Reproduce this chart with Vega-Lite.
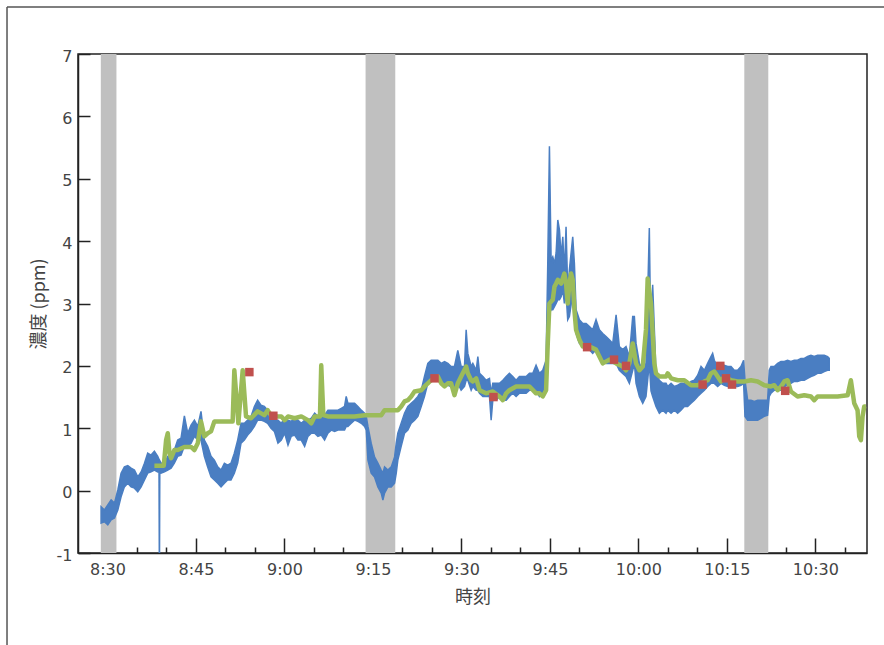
{
  "$schema": "https://vega.github.io/schema/vega-lite/v6.json",
  "width": 789,
  "height": 499,
  "autosize": {"type": "none"},
  "padding": {"left": 78, "top": 54, "right": 17, "bottom": 92},
  "background": "white",
  "config": {
    "view": {"stroke": "#222", "strokeWidth": 1.5},
    "font": "Noto Sans CJK JP",
    "axis": {
      "grid": false,
      "domainColor": "#222",
      "domainWidth": 1.5,
      "tickColor": "#222",
      "tickWidth": 1.5,
      "labelColor": "#444",
      "titleColor": "#444",
      "labelFont": "DejaVu Sans",
      "titleFont": "Noto Sans CJK JP",
      "labelFontSize": 16,
      "titleFontSize": 18,
      "titleFontWeight": "normal",
      "labelOverlap": false,
      "labelFlush": false
    }
  },
  "resolve": {"axis": {"x": "independent"}},
  "datasets": {
    "bands": [
      {"start": "2020-01-01T08:28:52", "end": "2020-01-01T08:31:31"},
      {"start": "2020-01-01T09:13:45", "end": "2020-01-01T09:18:47"},
      {"start": "2020-01-01T10:17:57", "end": "2020-01-01T10:22:01"}
    ],
    "blue": [
      {"t": "2020-01-01T08:28:55", "lo": -0.52, "hi": -0.26},
      {"t": "2020-01-01T08:29:29", "lo": -0.50, "hi": -0.31},
      {"t": "2020-01-01T08:30:03", "lo": -0.55, "hi": -0.23},
      {"t": "2020-01-01T08:30:37", "lo": -0.47, "hi": -0.15},
      {"t": "2020-01-01T08:31:11", "lo": -0.44, "hi": -0.20},
      {"t": "2020-01-01T08:31:45", "lo": -0.31, "hi": 0.01},
      {"t": "2020-01-01T08:32:18", "lo": -0.10, "hi": 0.28},
      {"t": "2020-01-01T08:32:52", "lo": 0.06, "hi": 0.38},
      {"t": "2020-01-01T08:33:26", "lo": 0.12, "hi": 0.40},
      {"t": "2020-01-01T08:34:00", "lo": 0.06, "hi": 0.36},
      {"t": "2020-01-01T08:34:34", "lo": 0.04, "hi": 0.33},
      {"t": "2020-01-01T08:35:08", "lo": -0.02, "hi": 0.22},
      {"t": "2020-01-01T08:35:42", "lo": 0.06, "hi": 0.30},
      {"t": "2020-01-01T08:36:16", "lo": 0.17, "hi": 0.44},
      {"t": "2020-01-01T08:36:49", "lo": 0.28, "hi": 0.60},
      {"t": "2020-01-01T08:37:23", "lo": 0.30, "hi": 0.57},
      {"t": "2020-01-01T08:37:57", "lo": 0.33, "hi": 0.63},
      {"t": "2020-01-01T08:38:31", "lo": 0.30, "hi": 0.55},
      {"t": "2020-01-01T08:38:44", "lo": 0.30, "hi": 0.50},
      {"t": "2020-01-01T08:38:48", "lo": -1.5, "hi": 0.45},
      {"t": "2020-01-01T08:38:52", "lo": 0.30, "hi": 0.48},
      {"t": "2020-01-01T08:39:05", "lo": 0.28, "hi": 0.44},
      {"t": "2020-01-01T08:39:39", "lo": 0.30, "hi": 0.44},
      {"t": "2020-01-01T08:40:13", "lo": 0.33, "hi": 0.55},
      {"t": "2020-01-01T08:40:47", "lo": 0.36, "hi": 0.57},
      {"t": "2020-01-01T08:41:20", "lo": 0.44, "hi": 0.65},
      {"t": "2020-01-01T08:41:54", "lo": 0.55, "hi": 0.81},
      {"t": "2020-01-01T08:42:28", "lo": 0.57, "hi": 0.84},
      {"t": "2020-01-01T08:43:02", "lo": 0.71, "hi": 1.20},
      {"t": "2020-01-01T08:43:36", "lo": 0.71, "hi": 0.92},
      {"t": "2020-01-01T08:44:10", "lo": 0.76, "hi": 1.05},
      {"t": "2020-01-01T08:44:44", "lo": 0.87, "hi": 1.13},
      {"t": "2020-01-01T08:45:18", "lo": 0.81, "hi": 1.03},
      {"t": "2020-01-01T08:45:51", "lo": 0.81, "hi": 1.27},
      {"t": "2020-01-01T08:46:25", "lo": 0.55, "hi": 0.81},
      {"t": "2020-01-01T08:46:59", "lo": 0.38, "hi": 0.71},
      {"t": "2020-01-01T08:47:33", "lo": 0.22, "hi": 0.55},
      {"t": "2020-01-01T08:48:07", "lo": 0.17, "hi": 0.49},
      {"t": "2020-01-01T08:48:41", "lo": 0.12, "hi": 0.38},
      {"t": "2020-01-01T08:49:15", "lo": 0.06, "hi": 0.33},
      {"t": "2020-01-01T08:49:49", "lo": 0.12, "hi": 0.44},
      {"t": "2020-01-01T08:50:22", "lo": 0.17, "hi": 0.41},
      {"t": "2020-01-01T08:50:56", "lo": 0.17, "hi": 0.44},
      {"t": "2020-01-01T08:51:30", "lo": 0.28, "hi": 0.60},
      {"t": "2020-01-01T08:52:04", "lo": 0.44, "hi": 0.81},
      {"t": "2020-01-01T08:52:38", "lo": 0.76, "hi": 1.08},
      {"t": "2020-01-01T08:53:12", "lo": 0.81, "hi": 1.08},
      {"t": "2020-01-01T08:53:46", "lo": 0.89, "hi": 1.13},
      {"t": "2020-01-01T08:54:20", "lo": 0.95, "hi": 1.19},
      {"t": "2020-01-01T08:54:54", "lo": 1.03, "hi": 1.35},
      {"t": "2020-01-01T08:55:27", "lo": 1.13, "hi": 1.45},
      {"t": "2020-01-01T08:56:01", "lo": 1.13, "hi": 1.37},
      {"t": "2020-01-01T08:56:35", "lo": 1.11, "hi": 1.35},
      {"t": "2020-01-01T08:57:09", "lo": 1.08, "hi": 1.29},
      {"t": "2020-01-01T08:57:43", "lo": 1.00, "hi": 1.19},
      {"t": "2020-01-01T08:58:17", "lo": 0.95, "hi": 1.13},
      {"t": "2020-01-01T08:58:54", "lo": 0.76, "hi": 1.13},
      {"t": "2020-01-01T08:59:28", "lo": 0.81, "hi": 1.08},
      {"t": "2020-01-01T09:00:02", "lo": 0.92, "hi": 1.16},
      {"t": "2020-01-01T09:00:36", "lo": 0.73, "hi": 1.13},
      {"t": "2020-01-01T09:01:09", "lo": 0.87, "hi": 1.11},
      {"t": "2020-01-01T09:01:43", "lo": 0.89, "hi": 1.16},
      {"t": "2020-01-01T09:02:17", "lo": 0.81, "hi": 1.13},
      {"t": "2020-01-01T09:02:51", "lo": 0.81, "hi": 1.08},
      {"t": "2020-01-01T09:03:25", "lo": 0.71, "hi": 1.13},
      {"t": "2020-01-01T09:03:59", "lo": 0.87, "hi": 1.13},
      {"t": "2020-01-01T09:04:33", "lo": 0.92, "hi": 1.16},
      {"t": "2020-01-01T09:05:07", "lo": 0.92, "hi": 1.24},
      {"t": "2020-01-01T09:05:40", "lo": 0.87, "hi": 1.19},
      {"t": "2020-01-01T09:06:14", "lo": 0.89, "hi": 1.21},
      {"t": "2020-01-01T09:06:48", "lo": 0.81, "hi": 1.21},
      {"t": "2020-01-01T09:07:22", "lo": 0.92, "hi": 1.29},
      {"t": "2020-01-01T09:07:56", "lo": 0.97, "hi": 1.29},
      {"t": "2020-01-01T09:08:30", "lo": 0.95, "hi": 1.29},
      {"t": "2020-01-01T09:09:04", "lo": 0.97, "hi": 1.29},
      {"t": "2020-01-01T09:09:38", "lo": 0.97, "hi": 1.32},
      {"t": "2020-01-01T09:10:11", "lo": 0.97, "hi": 1.35},
      {"t": "2020-01-01T09:10:28", "lo": 1.03, "hi": 1.51},
      {"t": "2020-01-01T09:10:45", "lo": 1.03, "hi": 1.40},
      {"t": "2020-01-01T09:11:19", "lo": 1.08, "hi": 1.40},
      {"t": "2020-01-01T09:11:53", "lo": 1.13, "hi": 1.40},
      {"t": "2020-01-01T09:12:27", "lo": 1.11, "hi": 1.35},
      {"t": "2020-01-01T09:13:01", "lo": 1.08, "hi": 1.29},
      {"t": "2020-01-01T09:13:35", "lo": 1.03, "hi": 1.24},
      {"t": "2020-01-01T09:13:52", "lo": 0.97, "hi": 1.19},
      {"t": "2020-01-01T09:14:09", "lo": 0.49, "hi": 1.03},
      {"t": "2020-01-01T09:14:42", "lo": 0.28, "hi": 0.76},
      {"t": "2020-01-01T09:15:16", "lo": 0.22, "hi": 0.54},
      {"t": "2020-01-01T09:15:50", "lo": 0.06, "hi": 0.44},
      {"t": "2020-01-01T09:16:24", "lo": -0.04, "hi": 0.33},
      {"t": "2020-01-01T09:16:41", "lo": -0.15, "hi": 0.28},
      {"t": "2020-01-01T09:16:58", "lo": -0.04, "hi": 0.38},
      {"t": "2020-01-01T09:17:32", "lo": 0.06, "hi": 0.33},
      {"t": "2020-01-01T09:18:06", "lo": 0.06, "hi": 0.38},
      {"t": "2020-01-01T09:18:40", "lo": 0.12, "hi": 0.54},
      {"t": "2020-01-01T09:18:57", "lo": 0.28, "hi": 0.76},
      {"t": "2020-01-01T09:19:13", "lo": 0.49, "hi": 0.92},
      {"t": "2020-01-01T09:19:47", "lo": 0.71, "hi": 1.08},
      {"t": "2020-01-01T09:20:21", "lo": 0.92, "hi": 1.24},
      {"t": "2020-01-01T09:20:55", "lo": 0.97, "hi": 1.35},
      {"t": "2020-01-01T09:21:29", "lo": 1.08, "hi": 1.40},
      {"t": "2020-01-01T09:22:03", "lo": 1.13, "hi": 1.45},
      {"t": "2020-01-01T09:22:37", "lo": 1.19, "hi": 1.51},
      {"t": "2020-01-01T09:23:11", "lo": 1.35, "hi": 1.61},
      {"t": "2020-01-01T09:23:44", "lo": 1.51, "hi": 1.83},
      {"t": "2020-01-01T09:24:18", "lo": 1.72, "hi": 2.04},
      {"t": "2020-01-01T09:24:52", "lo": 1.80, "hi": 2.09},
      {"t": "2020-01-01T09:25:26", "lo": 1.83, "hi": 2.09},
      {"t": "2020-01-01T09:26:00", "lo": 1.83, "hi": 2.09},
      {"t": "2020-01-01T09:26:34", "lo": 1.77, "hi": 2.04},
      {"t": "2020-01-01T09:27:08", "lo": 1.72, "hi": 2.07},
      {"t": "2020-01-01T09:27:42", "lo": 1.69, "hi": 2.04},
      {"t": "2020-01-01T09:28:15", "lo": 1.67, "hi": 1.99},
      {"t": "2020-01-01T09:28:49", "lo": 1.56, "hi": 1.99},
      {"t": "2020-01-01T09:29:23", "lo": 1.72, "hi": 2.25},
      {"t": "2020-01-01T09:29:57", "lo": 1.61, "hi": 1.99},
      {"t": "2020-01-01T09:30:31", "lo": 1.67, "hi": 1.99},
      {"t": "2020-01-01T09:30:48", "lo": 1.77, "hi": 2.58},
      {"t": "2020-01-01T09:31:05", "lo": 1.77, "hi": 2.20},
      {"t": "2020-01-01T09:31:39", "lo": 1.61, "hi": 1.99},
      {"t": "2020-01-01T09:31:56", "lo": 1.67, "hi": 2.04},
      {"t": "2020-01-01T09:32:30", "lo": 1.61, "hi": 1.93},
      {"t": "2020-01-01T09:32:47", "lo": 1.61, "hi": 2.15},
      {"t": "2020-01-01T09:33:04", "lo": 1.56, "hi": 1.88},
      {"t": "2020-01-01T09:33:38", "lo": 1.51, "hi": 1.83},
      {"t": "2020-01-01T09:34:11", "lo": 1.51, "hi": 1.77},
      {"t": "2020-01-01T09:34:45", "lo": 1.51, "hi": 1.80},
      {"t": "2020-01-01T09:35:02", "lo": 1.13, "hi": 1.56},
      {"t": "2020-01-01T09:35:19", "lo": 1.45, "hi": 1.72},
      {"t": "2020-01-01T09:35:53", "lo": 1.45, "hi": 1.72},
      {"t": "2020-01-01T09:36:27", "lo": 1.51, "hi": 1.72},
      {"t": "2020-01-01T09:37:01", "lo": 1.45, "hi": 1.77},
      {"t": "2020-01-01T09:37:35", "lo": 1.45, "hi": 1.83},
      {"t": "2020-01-01T09:38:08", "lo": 1.51, "hi": 1.88},
      {"t": "2020-01-01T09:38:42", "lo": 1.56, "hi": 1.83},
      {"t": "2020-01-01T09:39:16", "lo": 1.51, "hi": 1.77},
      {"t": "2020-01-01T09:39:50", "lo": 1.56, "hi": 1.83},
      {"t": "2020-01-01T09:40:24", "lo": 1.56, "hi": 1.83},
      {"t": "2020-01-01T09:40:58", "lo": 1.56, "hi": 1.83},
      {"t": "2020-01-01T09:41:32", "lo": 1.61, "hi": 1.88},
      {"t": "2020-01-01T09:42:06", "lo": 1.61, "hi": 1.88},
      {"t": "2020-01-01T09:42:39", "lo": 1.61, "hi": 2.01},
      {"t": "2020-01-01T09:43:13", "lo": 1.51, "hi": 1.88},
      {"t": "2020-01-01T09:43:47", "lo": 1.56, "hi": 1.93},
      {"t": "2020-01-01T09:44:21", "lo": 1.72, "hi": 2.09},
      {"t": "2020-01-01T09:44:38", "lo": 2.36, "hi": 3.64},
      {"t": "2020-01-01T09:44:55", "lo": 2.84, "hi": 5.52},
      {"t": "2020-01-01T09:45:12", "lo": 2.90, "hi": 3.70},
      {"t": "2020-01-01T09:45:29", "lo": 2.90, "hi": 3.75},
      {"t": "2020-01-01T09:45:46", "lo": 2.95, "hi": 3.64},
      {"t": "2020-01-01T09:46:03", "lo": 3.00, "hi": 3.81},
      {"t": "2020-01-01T09:46:20", "lo": 3.06, "hi": 4.34},
      {"t": "2020-01-01T09:46:37", "lo": 3.06, "hi": 4.18},
      {"t": "2020-01-01T09:46:54", "lo": 3.11, "hi": 3.75},
      {"t": "2020-01-01T09:47:11", "lo": 3.22, "hi": 4.07},
      {"t": "2020-01-01T09:47:27", "lo": 3.00, "hi": 3.48},
      {"t": "2020-01-01T09:47:44", "lo": 3.16, "hi": 4.23},
      {"t": "2020-01-01T09:48:01", "lo": 2.74, "hi": 3.22},
      {"t": "2020-01-01T09:48:18", "lo": 2.79, "hi": 3.54},
      {"t": "2020-01-01T09:48:52", "lo": 3.16, "hi": 4.07},
      {"t": "2020-01-01T09:49:09", "lo": 2.90, "hi": 3.64},
      {"t": "2020-01-01T09:49:26", "lo": 2.52, "hi": 2.90},
      {"t": "2020-01-01T09:50:00", "lo": 2.36, "hi": 2.74},
      {"t": "2020-01-01T09:50:34", "lo": 2.31, "hi": 2.68},
      {"t": "2020-01-01T09:51:08", "lo": 2.26, "hi": 2.68},
      {"t": "2020-01-01T09:51:42", "lo": 2.26, "hi": 2.63},
      {"t": "2020-01-01T09:52:15", "lo": 2.20, "hi": 2.58},
      {"t": "2020-01-01T09:52:49", "lo": 2.26, "hi": 2.74},
      {"t": "2020-01-01T09:53:23", "lo": 2.15, "hi": 2.58},
      {"t": "2020-01-01T09:53:57", "lo": 2.10, "hi": 2.52},
      {"t": "2020-01-01T09:54:31", "lo": 2.04, "hi": 2.47},
      {"t": "2020-01-01T09:55:05", "lo": 2.04, "hi": 2.42},
      {"t": "2020-01-01T09:55:39", "lo": 2.04, "hi": 2.36},
      {"t": "2020-01-01T09:56:13", "lo": 2.04, "hi": 2.82},
      {"t": "2020-01-01T09:56:46", "lo": 1.93, "hi": 2.31},
      {"t": "2020-01-01T09:57:20", "lo": 1.88, "hi": 2.26},
      {"t": "2020-01-01T09:57:54", "lo": 1.83, "hi": 2.31},
      {"t": "2020-01-01T09:58:28", "lo": 1.72, "hi": 2.15},
      {"t": "2020-01-01T09:59:02", "lo": 1.93, "hi": 2.79},
      {"t": "2020-01-01T09:59:19", "lo": 2.04, "hi": 2.79},
      {"t": "2020-01-01T09:59:36", "lo": 1.72, "hi": 2.36},
      {"t": "2020-01-01T10:00:10", "lo": 1.51, "hi": 2.04},
      {"t": "2020-01-01T10:00:44", "lo": 1.40, "hi": 1.93},
      {"t": "2020-01-01T10:01:17", "lo": 1.51, "hi": 2.04},
      {"t": "2020-01-01T10:01:51", "lo": 2.04, "hi": 4.21},
      {"t": "2020-01-01T10:02:08", "lo": 1.60, "hi": 2.20},
      {"t": "2020-01-01T10:02:25", "lo": 1.51, "hi": 3.30},
      {"t": "2020-01-01T10:02:59", "lo": 1.35, "hi": 1.88},
      {"t": "2020-01-01T10:03:33", "lo": 1.24, "hi": 1.77},
      {"t": "2020-01-01T10:04:07", "lo": 1.29, "hi": 1.72},
      {"t": "2020-01-01T10:04:41", "lo": 1.24, "hi": 1.72},
      {"t": "2020-01-01T10:04:58", "lo": 1.29, "hi": 1.67},
      {"t": "2020-01-01T10:05:32", "lo": 1.24, "hi": 1.72},
      {"t": "2020-01-01T10:06:06", "lo": 1.29, "hi": 1.67},
      {"t": "2020-01-01T10:06:39", "lo": 1.24, "hi": 1.69},
      {"t": "2020-01-01T10:07:13", "lo": 1.29, "hi": 1.72},
      {"t": "2020-01-01T10:07:47", "lo": 1.35, "hi": 1.72},
      {"t": "2020-01-01T10:08:21", "lo": 1.35, "hi": 1.69},
      {"t": "2020-01-01T10:08:55", "lo": 1.40, "hi": 1.75},
      {"t": "2020-01-01T10:09:29", "lo": 1.45, "hi": 1.77},
      {"t": "2020-01-01T10:10:03", "lo": 1.51, "hi": 1.85},
      {"t": "2020-01-01T10:10:37", "lo": 1.56, "hi": 1.99},
      {"t": "2020-01-01T10:11:11", "lo": 1.61, "hi": 1.93},
      {"t": "2020-01-01T10:11:44", "lo": 1.67, "hi": 2.04},
      {"t": "2020-01-01T10:12:18", "lo": 1.72, "hi": 2.15},
      {"t": "2020-01-01T10:12:35", "lo": 1.72, "hi": 2.20},
      {"t": "2020-01-01T10:12:52", "lo": 1.72, "hi": 2.09},
      {"t": "2020-01-01T10:13:26", "lo": 1.67, "hi": 1.99},
      {"t": "2020-01-01T10:14:00", "lo": 1.72, "hi": 1.99},
      {"t": "2020-01-01T10:14:34", "lo": 1.69, "hi": 2.01},
      {"t": "2020-01-01T10:15:08", "lo": 1.67, "hi": 1.99},
      {"t": "2020-01-01T10:15:42", "lo": 1.69, "hi": 1.99},
      {"t": "2020-01-01T10:16:15", "lo": 1.67, "hi": 1.93},
      {"t": "2020-01-01T10:16:49", "lo": 1.67, "hi": 1.93},
      {"t": "2020-01-01T10:17:23", "lo": 1.69, "hi": 1.99},
      {"t": "2020-01-01T10:17:50", "lo": 1.72, "hi": 2.09},
      {"t": "2020-01-01T10:18:04", "lo": 1.19, "hi": 1.77},
      {"t": "2020-01-01T10:18:31", "lo": 1.13, "hi": 1.45},
      {"t": "2020-01-01T10:19:05", "lo": 1.13, "hi": 1.45},
      {"t": "2020-01-01T10:19:39", "lo": 1.13, "hi": 1.43},
      {"t": "2020-01-01T10:20:13", "lo": 1.13, "hi": 1.45},
      {"t": "2020-01-01T10:20:46", "lo": 1.16, "hi": 1.45},
      {"t": "2020-01-01T10:21:20", "lo": 1.19, "hi": 1.45},
      {"t": "2020-01-01T10:21:54", "lo": 1.21, "hi": 1.45},
      {"t": "2020-01-01T10:22:11", "lo": 1.51, "hi": 1.93},
      {"t": "2020-01-01T10:22:28", "lo": 1.56, "hi": 1.99},
      {"t": "2020-01-01T10:23:02", "lo": 1.61, "hi": 1.99},
      {"t": "2020-01-01T10:23:36", "lo": 1.61, "hi": 2.04},
      {"t": "2020-01-01T10:24:10", "lo": 1.61, "hi": 2.07},
      {"t": "2020-01-01T10:24:44", "lo": 1.67, "hi": 2.07},
      {"t": "2020-01-01T10:25:17", "lo": 1.69, "hi": 2.09},
      {"t": "2020-01-01T10:25:51", "lo": 1.72, "hi": 2.07},
      {"t": "2020-01-01T10:26:25", "lo": 1.75, "hi": 2.09},
      {"t": "2020-01-01T10:26:59", "lo": 1.75, "hi": 2.09},
      {"t": "2020-01-01T10:27:33", "lo": 1.77, "hi": 2.12},
      {"t": "2020-01-01T10:28:07", "lo": 1.77, "hi": 2.12},
      {"t": "2020-01-01T10:28:41", "lo": 1.80, "hi": 2.15},
      {"t": "2020-01-01T10:29:15", "lo": 1.83, "hi": 2.17},
      {"t": "2020-01-01T10:29:48", "lo": 1.85, "hi": 2.15},
      {"t": "2020-01-01T10:30:22", "lo": 1.88, "hi": 2.17},
      {"t": "2020-01-01T10:30:56", "lo": 1.88, "hi": 2.17},
      {"t": "2020-01-01T10:31:30", "lo": 1.91, "hi": 2.17},
      {"t": "2020-01-01T10:32:04", "lo": 1.93, "hi": 2.15},
      {"t": "2020-01-01T10:32:21", "lo": 1.93, "hi": 2.12}
    ],
    "green": [
      {"t": "2020-01-01T08:37:57", "v": 0.40},
      {"t": "2020-01-01T08:39:32", "v": 0.40},
      {"t": "2020-01-01T08:39:56", "v": 0.81},
      {"t": "2020-01-01T08:40:13", "v": 0.92},
      {"t": "2020-01-01T08:40:30", "v": 0.60},
      {"t": "2020-01-01T08:40:47", "v": 0.52},
      {"t": "2020-01-01T08:41:20", "v": 0.65},
      {"t": "2020-01-01T08:41:54", "v": 0.65},
      {"t": "2020-01-01T08:43:02", "v": 0.70},
      {"t": "2020-01-01T08:44:10", "v": 0.70},
      {"t": "2020-01-01T08:44:44", "v": 0.65},
      {"t": "2020-01-01T08:45:18", "v": 0.76},
      {"t": "2020-01-01T08:45:51", "v": 1.11},
      {"t": "2020-01-01T08:46:25", "v": 0.87},
      {"t": "2020-01-01T08:46:59", "v": 0.92},
      {"t": "2020-01-01T08:47:33", "v": 0.95},
      {"t": "2020-01-01T08:48:07", "v": 1.11},
      {"t": "2020-01-01T08:51:13", "v": 1.11},
      {"t": "2020-01-01T08:51:30", "v": 1.93},
      {"t": "2020-01-01T08:52:11", "v": 1.08},
      {"t": "2020-01-01T08:52:55", "v": 1.93},
      {"t": "2020-01-01T08:53:29", "v": 1.19},
      {"t": "2020-01-01T08:54:20", "v": 1.16},
      {"t": "2020-01-01T08:55:27", "v": 1.27},
      {"t": "2020-01-01T08:56:35", "v": 1.21},
      {"t": "2020-01-01T08:57:09", "v": 1.29},
      {"t": "2020-01-01T08:57:43", "v": 1.21},
      {"t": "2020-01-01T08:58:51", "v": 1.19},
      {"t": "2020-01-01T08:59:28", "v": 1.19},
      {"t": "2020-01-01T09:00:02", "v": 1.13},
      {"t": "2020-01-01T09:00:36", "v": 1.19},
      {"t": "2020-01-01T09:01:43", "v": 1.16},
      {"t": "2020-01-01T09:02:51", "v": 1.19},
      {"t": "2020-01-01T09:03:59", "v": 1.13},
      {"t": "2020-01-01T09:04:33", "v": 1.08},
      {"t": "2020-01-01T09:05:07", "v": 1.19},
      {"t": "2020-01-01T09:06:01", "v": 1.19},
      {"t": "2020-01-01T09:06:14", "v": 2.01},
      {"t": "2020-01-01T09:06:35", "v": 1.21},
      {"t": "2020-01-01T09:07:22", "v": 1.19},
      {"t": "2020-01-01T09:11:53", "v": 1.19},
      {"t": "2020-01-01T09:13:35", "v": 1.21},
      {"t": "2020-01-01T09:16:24", "v": 1.21},
      {"t": "2020-01-01T09:16:58", "v": 1.29},
      {"t": "2020-01-01T09:19:13", "v": 1.29},
      {"t": "2020-01-01T09:19:47", "v": 1.35},
      {"t": "2020-01-01T09:20:21", "v": 1.43},
      {"t": "2020-01-01T09:20:55", "v": 1.45},
      {"t": "2020-01-01T09:21:29", "v": 1.51},
      {"t": "2020-01-01T09:22:03", "v": 1.59},
      {"t": "2020-01-01T09:23:11", "v": 1.61},
      {"t": "2020-01-01T09:23:44", "v": 1.67},
      {"t": "2020-01-01T09:24:18", "v": 1.72},
      {"t": "2020-01-01T09:24:52", "v": 1.77},
      {"t": "2020-01-01T09:26:00", "v": 1.83},
      {"t": "2020-01-01T09:26:34", "v": 1.72},
      {"t": "2020-01-01T09:27:08", "v": 1.67},
      {"t": "2020-01-01T09:27:42", "v": 1.72},
      {"t": "2020-01-01T09:28:15", "v": 1.72},
      {"t": "2020-01-01T09:28:49", "v": 1.53},
      {"t": "2020-01-01T09:29:23", "v": 1.72},
      {"t": "2020-01-01T09:29:57", "v": 1.83},
      {"t": "2020-01-01T09:30:48", "v": 1.99},
      {"t": "2020-01-01T09:31:05", "v": 1.88},
      {"t": "2020-01-01T09:31:39", "v": 1.77},
      {"t": "2020-01-01T09:31:56", "v": 1.75},
      {"t": "2020-01-01T09:32:30", "v": 1.80},
      {"t": "2020-01-01T09:33:04", "v": 1.61},
      {"t": "2020-01-01T09:34:11", "v": 1.56},
      {"t": "2020-01-01T09:35:19", "v": 1.59},
      {"t": "2020-01-01T09:36:27", "v": 1.51},
      {"t": "2020-01-01T09:37:01", "v": 1.45},
      {"t": "2020-01-01T09:37:35", "v": 1.56},
      {"t": "2020-01-01T09:38:08", "v": 1.61},
      {"t": "2020-01-01T09:39:16", "v": 1.67},
      {"t": "2020-01-01T09:41:32", "v": 1.67},
      {"t": "2020-01-01T09:42:39", "v": 1.56},
      {"t": "2020-01-01T09:43:13", "v": 1.56},
      {"t": "2020-01-01T09:43:47", "v": 1.51},
      {"t": "2020-01-01T09:44:21", "v": 1.61},
      {"t": "2020-01-01T09:44:38", "v": 2.36},
      {"t": "2020-01-01T09:44:55", "v": 3.00},
      {"t": "2020-01-01T09:45:29", "v": 3.06},
      {"t": "2020-01-01T09:45:46", "v": 3.27},
      {"t": "2020-01-01T09:46:03", "v": 3.32},
      {"t": "2020-01-01T09:46:20", "v": 3.38},
      {"t": "2020-01-01T09:46:54", "v": 3.32},
      {"t": "2020-01-01T09:47:27", "v": 3.48},
      {"t": "2020-01-01T09:47:44", "v": 3.32},
      {"t": "2020-01-01T09:48:01", "v": 3.00},
      {"t": "2020-01-01T09:48:18", "v": 3.32},
      {"t": "2020-01-01T09:48:35", "v": 3.48},
      {"t": "2020-01-01T09:48:52", "v": 3.38},
      {"t": "2020-01-01T09:49:09", "v": 2.90},
      {"t": "2020-01-01T09:49:26", "v": 2.58},
      {"t": "2020-01-01T09:50:00", "v": 2.42},
      {"t": "2020-01-01T09:50:34", "v": 2.31},
      {"t": "2020-01-01T09:51:42", "v": 2.31},
      {"t": "2020-01-01T09:52:49", "v": 2.26},
      {"t": "2020-01-01T09:53:23", "v": 2.15},
      {"t": "2020-01-01T09:53:57", "v": 2.04},
      {"t": "2020-01-01T09:55:05", "v": 2.10},
      {"t": "2020-01-01T09:56:13", "v": 2.04},
      {"t": "2020-01-01T09:57:20", "v": 1.99},
      {"t": "2020-01-01T09:57:54", "v": 1.93},
      {"t": "2020-01-01T09:58:28", "v": 2.04},
      {"t": "2020-01-01T09:59:02", "v": 2.36},
      {"t": "2020-01-01T09:59:36", "v": 2.04},
      {"t": "2020-01-01T10:00:10", "v": 1.93},
      {"t": "2020-01-01T10:00:44", "v": 1.99},
      {"t": "2020-01-01T10:01:17", "v": 2.58},
      {"t": "2020-01-01T10:01:34", "v": 3.40},
      {"t": "2020-01-01T10:02:08", "v": 3.00},
      {"t": "2020-01-01T10:02:42", "v": 2.04},
      {"t": "2020-01-01T10:02:59", "v": 1.88},
      {"t": "2020-01-01T10:03:33", "v": 1.83},
      {"t": "2020-01-01T10:04:41", "v": 1.83},
      {"t": "2020-01-01T10:04:58", "v": 1.88},
      {"t": "2020-01-01T10:05:32", "v": 1.80},
      {"t": "2020-01-01T10:06:39", "v": 1.77},
      {"t": "2020-01-01T10:07:47", "v": 1.77},
      {"t": "2020-01-01T10:08:55", "v": 1.69},
      {"t": "2020-01-01T10:10:03", "v": 1.69},
      {"t": "2020-01-01T10:10:37", "v": 1.72},
      {"t": "2020-01-01T10:11:11", "v": 1.75},
      {"t": "2020-01-01T10:11:44", "v": 1.77},
      {"t": "2020-01-01T10:12:18", "v": 1.88},
      {"t": "2020-01-01T10:12:52", "v": 1.91},
      {"t": "2020-01-01T10:13:26", "v": 1.83},
      {"t": "2020-01-01T10:14:00", "v": 1.75},
      {"t": "2020-01-01T10:14:34", "v": 1.83},
      {"t": "2020-01-01T10:15:42", "v": 1.77},
      {"t": "2020-01-01T10:16:49", "v": 1.75},
      {"t": "2020-01-01T10:17:57", "v": 1.75},
      {"t": "2020-01-01T10:19:05", "v": 1.77},
      {"t": "2020-01-01T10:20:13", "v": 1.75},
      {"t": "2020-01-01T10:21:20", "v": 1.69},
      {"t": "2020-01-01T10:22:28", "v": 1.67},
      {"t": "2020-01-01T10:23:02", "v": 1.69},
      {"t": "2020-01-01T10:23:36", "v": 1.61},
      {"t": "2020-01-01T10:24:10", "v": 1.67},
      {"t": "2020-01-01T10:24:44", "v": 1.75},
      {"t": "2020-01-01T10:25:17", "v": 1.77},
      {"t": "2020-01-01T10:25:51", "v": 1.59},
      {"t": "2020-01-01T10:26:59", "v": 1.51},
      {"t": "2020-01-01T10:28:07", "v": 1.53},
      {"t": "2020-01-01T10:29:15", "v": 1.51},
      {"t": "2020-01-01T10:29:48", "v": 1.45},
      {"t": "2020-01-01T10:30:22", "v": 1.51},
      {"t": "2020-01-01T10:31:30", "v": 1.51},
      {"t": "2020-01-01T10:33:46", "v": 1.51},
      {"t": "2020-01-01T10:35:28", "v": 1.53},
      {"t": "2020-01-01T10:36:01", "v": 1.77},
      {"t": "2020-01-01T10:36:35", "v": 1.40},
      {"t": "2020-01-01T10:37:09", "v": 1.29},
      {"t": "2020-01-01T10:37:26", "v": 0.87},
      {"t": "2020-01-01T10:37:43", "v": 0.81},
      {"t": "2020-01-01T10:38:00", "v": 1.19},
      {"t": "2020-01-01T10:38:17", "v": 1.35},
      {"t": "2020-01-01T10:38:34", "v": 1.35}
    ],
    "samples": [
      {"t": "2020-01-01T08:54:03", "v": 1.90},
      {"t": "2020-01-01T08:58:07", "v": 1.20},
      {"t": "2020-01-01T09:25:26", "v": 1.80},
      {"t": "2020-01-01T09:35:26", "v": 1.50},
      {"t": "2020-01-01T09:51:18", "v": 2.30},
      {"t": "2020-01-01T09:55:52", "v": 2.10},
      {"t": "2020-01-01T09:57:54", "v": 2.00},
      {"t": "2020-01-01T10:10:53", "v": 1.70},
      {"t": "2020-01-01T10:13:53", "v": 2.00},
      {"t": "2020-01-01T10:14:51", "v": 1.80},
      {"t": "2020-01-01T10:15:52", "v": 1.70},
      {"t": "2020-01-01T10:24:53", "v": 1.60}
    ]
  },
  "layer": [
    {
      "data": {"name": "bands"},
      "mark": {"type": "rect", "color": "#c0c0c0", "opacity": 1},
      "encoding": {
        "x": {
          "field": "start",
          "type": "temporal",
          "scale": {"domain": [
            {"year": 2020, "month": 1, "date": 1, "hours": 8, "minutes": 25, "seconds": 0},
            {"year": 2020, "month": 1, "date": 1, "hours": 10, "minutes": 38, "seconds": 45}
          ]},
          "axis": {
            "orient": "bottom",
            "title": "時刻",
            "format": "%-H:%M",
            "values": [
              {"year": 2020, "month": 1, "date": 1, "hours": 8, "minutes": 30},
              {"year": 2020, "month": 1, "date": 1, "hours": 8, "minutes": 45},
              {"year": 2020, "month": 1, "date": 1, "hours": 9, "minutes": 0},
              {"year": 2020, "month": 1, "date": 1, "hours": 9, "minutes": 15},
              {"year": 2020, "month": 1, "date": 1, "hours": 9, "minutes": 30},
              {"year": 2020, "month": 1, "date": 1, "hours": 9, "minutes": 45},
              {"year": 2020, "month": 1, "date": 1, "hours": 10, "minutes": 0},
              {"year": 2020, "month": 1, "date": 1, "hours": 10, "minutes": 15},
              {"year": 2020, "month": 1, "date": 1, "hours": 10, "minutes": 30}
            ],
            "tickSize": -15,
            "labelPadding": 23,
            "titlePadding": 11
          }
        },
        "x2": {"field": "end"}
      }
    },
    {
      "data": {"name": "blue"},
      "mark": {"type": "area", "color": "#4a7ec2", "stroke": "#4a7ec2", "strokeWidth": 1.5, "opacity": 1, "clip": true},
      "encoding": {
        "x": {"field": "t", "type": "temporal", "axis": null},
        "y": {
          "field": "lo",
          "type": "quantitative",
          "title": "濃度 (ppm)",
          "scale": {"domain": [-1, 7], "nice": false, "zero": false},
          "axis": {"values": [-1, 0, 1, 2, 3, 4, 5, 6, 7], "labelExpr": "'' + datum.value", "tickSize": -12, "labelPadding": 18, "labelOffset": 2, "titlePadding": 8, "title": "濃度 (ppm)"}
        },
        "y2": {"field": "hi"}
      }
    },
    {
      "data": {"name": "green"},
      "mark": {"type": "line", "color": "#9bbb59", "strokeWidth": 4.5, "strokeJoin": "round", "clip": true},
      "encoding": {
        "x": {"field": "t", "type": "temporal", "axis": null},
        "y": {"field": "v", "type": "quantitative", "title": "濃度 (ppm)"}
      }
    },
    {
      "data": {"name": "samples"},
      "mark": {"type": "square", "size": 72, "color": "#c0504d", "opacity": 1},
      "encoding": {
        "x": {
          "field": "t",
          "type": "temporal",
          "axis": {
            "orient": "bottom",
            "title": null,
            "labels": false,
            "domain": false,
            "tickSize": -6,
            "values": [
              {"year": 2020, "month": 1, "date": 1, "hours": 8, "minutes": 35},
              {"year": 2020, "month": 1, "date": 1, "hours": 8, "minutes": 40},
              {"year": 2020, "month": 1, "date": 1, "hours": 8, "minutes": 50},
              {"year": 2020, "month": 1, "date": 1, "hours": 8, "minutes": 55},
              {"year": 2020, "month": 1, "date": 1, "hours": 9, "minutes": 5},
              {"year": 2020, "month": 1, "date": 1, "hours": 9, "minutes": 10},
              {"year": 2020, "month": 1, "date": 1, "hours": 9, "minutes": 20},
              {"year": 2020, "month": 1, "date": 1, "hours": 9, "minutes": 25},
              {"year": 2020, "month": 1, "date": 1, "hours": 9, "minutes": 35},
              {"year": 2020, "month": 1, "date": 1, "hours": 9, "minutes": 40},
              {"year": 2020, "month": 1, "date": 1, "hours": 9, "minutes": 50},
              {"year": 2020, "month": 1, "date": 1, "hours": 9, "minutes": 55},
              {"year": 2020, "month": 1, "date": 1, "hours": 10, "minutes": 5},
              {"year": 2020, "month": 1, "date": 1, "hours": 10, "minutes": 10},
              {"year": 2020, "month": 1, "date": 1, "hours": 10, "minutes": 20},
              {"year": 2020, "month": 1, "date": 1, "hours": 10, "minutes": 25},
              {"year": 2020, "month": 1, "date": 1, "hours": 10, "minutes": 35}
            ]
          }
        },
        "y": {"field": "v", "type": "quantitative", "title": "濃度 (ppm)"}
      }
    },
    {
      "data": {"values": [{}]},
      "mark": {"type": "rule", "color": "#555", "strokeWidth": 1.5, "clip": false},
      "encoding": {
        "x": {"datum": {"year": 2020, "month": 1, "date": 1, "hours": 8, "minutes": 12, "seconds": 58}, "type": "temporal", "axis": null},
        "x2": {"datum": {"year": 2020, "month": 1, "date": 1, "hours": 10, "minutes": 50, "seconds": 0}},
        "y": {"datum": 7.7535, "type": "quantitative"}
      }
    },
    {
      "data": {"values": [{}]},
      "mark": {"type": "rule", "color": "#555", "strokeWidth": 1.5, "clip": false},
      "encoding": {
        "x": {"datum": {"year": 2020, "month": 1, "date": 1, "hours": 8, "minutes": 12, "seconds": 58}, "type": "temporal", "axis": null},
        "y": {"datum": 7.7535, "type": "quantitative"},
        "y2": {"datum": -3}
      }
    }
  ]
}
